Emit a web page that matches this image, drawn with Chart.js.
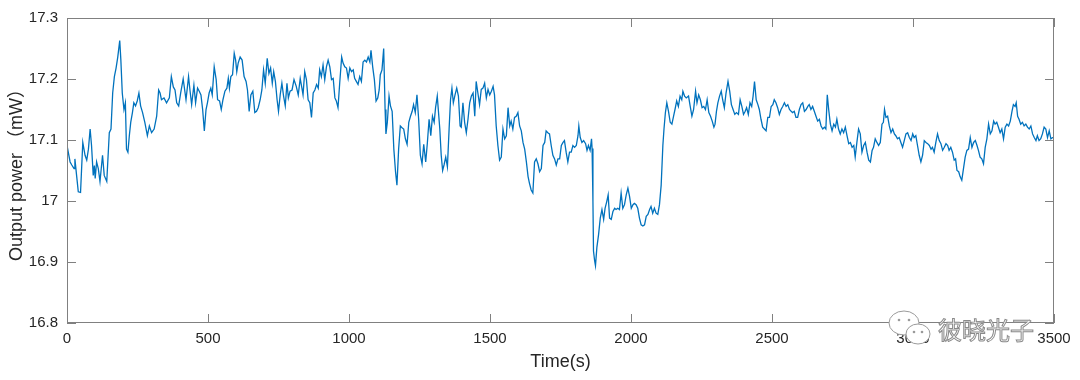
<!DOCTYPE html>
<html>
<head>
<meta charset="utf-8">
<script src="https://cdn.jsdelivr.net/npm/chart.js@4/dist/chart.umd.min.js"></script>
<style>
  body { margin: 0; background: #fff; }
  #wrap { width: 1080px; height: 380px; position: relative; }
</style>
</head>
<body>
<div id="wrap"><canvas id="power"></canvas></div>
<script>
var timeS = [
  0, 11, 17, 25, 28, 34, 40, 48, 56, 64,
  70, 76, 82, 87, 93, 97, 100, 105, 111, 117,
  126, 132, 141, 150, 156, 162, 168, 174, 180, 187,
  191, 196, 202, 207, 211, 216, 221, 226, 232, 237,
  243, 249, 255, 261, 268, 276, 285, 292, 300, 309,
  318, 325, 330, 335, 344, 353, 363, 370, 377, 383,
  389, 396, 403, 412, 422, 431, 436, 442, 450, 456,
  463, 469, 475, 481, 487, 493, 498, 504, 510, 515,
  522, 529, 534, 541, 547, 553, 560, 567, 572, 576,
  581, 587, 593, 598, 602, 607, 614, 621, 628, 635,
  640, 646, 652, 659, 666, 672, 678, 685, 691, 697,
  703, 710, 716, 722, 728, 733, 739, 745, 750, 756,
  762, 768, 774, 780, 785, 791, 798, 805, 813, 820,
  827, 833, 837, 843, 849, 855, 861, 867, 873, 879,
  885, 891, 896, 902, 908, 914, 920, 926, 932, 938,
  944, 950, 955, 961, 967, 974, 979, 985, 991, 997,
  1003, 1009, 1015, 1020, 1026, 1032, 1038, 1044, 1050, 1056,
  1062, 1068, 1074, 1078, 1084, 1090, 1096, 1102, 1107, 1111,
  1117, 1123, 1128, 1131, 1136, 1142, 1147, 1153, 1159, 1165,
  1170, 1176, 1182, 1188, 1194, 1200, 1206, 1212, 1218, 1224,
  1229, 1235, 1241, 1247, 1253, 1259, 1265, 1272, 1278, 1284,
  1290, 1296, 1302, 1307, 1313, 1322, 1327, 1332, 1337, 1343,
  1349, 1355, 1360, 1365, 1370, 1376, 1382, 1388, 1394, 1398,
  1404, 1410, 1416, 1422, 1428, 1434, 1440, 1446, 1451, 1457,
  1463, 1469, 1475, 1481, 1487, 1493, 1499, 1505, 1511, 1516,
  1522, 1528, 1534, 1540, 1546, 1552, 1558, 1564, 1570, 1575,
  1581, 1587, 1593, 1599, 1605, 1611, 1617, 1623, 1629, 1635,
  1640, 1646, 1652, 1658, 1664, 1670, 1676, 1682, 1688, 1694,
  1699, 1705, 1711, 1717, 1723, 1729, 1735, 1741, 1747, 1753,
  1759, 1764, 1770, 1776, 1782, 1788, 1794, 1800, 1806, 1812,
  1815, 1820, 1826, 1832, 1839, 1844, 1849, 1855, 1860, 1862,
  1865, 1867, 1871, 1874, 1879, 1885, 1891, 1897, 1903, 1908,
  1914, 1919, 1924, 1930, 1936, 1942, 1947, 1953, 1959, 1965,
  1971, 1977, 1983, 1989, 1995, 2001, 2007, 2012, 2018, 2024,
  2030, 2036, 2042, 2048, 2054, 2060, 2066, 2071, 2077, 2083,
  2089, 2095, 2101, 2107, 2113, 2117, 2122, 2127, 2133, 2139,
  2145, 2151, 2156, 2162, 2168, 2174, 2180, 2184, 2190, 2196,
  2204, 2210, 2216, 2222, 2229, 2234, 2240, 2246, 2252, 2258,
  2264, 2270, 2276, 2282, 2288, 2294, 2298, 2303, 2308, 2314,
  2320, 2325, 2331, 2337, 2344, 2350, 2356, 2362, 2368, 2374,
  2381, 2387, 2393, 2399, 2405, 2410, 2416, 2422, 2428, 2433,
  2438, 2444, 2450, 2455, 2461, 2467, 2473, 2479, 2485, 2491,
  2497, 2503, 2508, 2514, 2520, 2526, 2532, 2538, 2544, 2550,
  2556, 2562, 2568, 2573, 2579, 2585, 2591, 2597, 2603, 2609,
  2615, 2621, 2627, 2632, 2638, 2644, 2650, 2656, 2662, 2668,
  2674, 2680, 2686, 2691, 2696, 2701, 2707, 2713, 2719, 2725,
  2730, 2736, 2742, 2748, 2754, 2760, 2766, 2772, 2778, 2784,
  2790, 2795, 2801, 2807, 2813, 2819, 2825, 2831, 2837, 2843,
  2849, 2855, 2860, 2866, 2872, 2878, 2884, 2890, 2895, 2899,
  2904, 2910, 2916, 2922, 2928, 2934, 2939, 2945, 2951, 2957,
  2963, 2969, 2975, 2981, 2987, 2993, 2999, 3004, 3010, 3016,
  3022, 3028, 3034, 3040, 3046, 3052, 3058, 3064, 3069, 3075,
  3081, 3087, 3093, 3099, 3105, 3111, 3117, 3123, 3128, 3134,
  3140, 3146, 3151, 3156, 3162, 3167, 3173, 3179, 3185, 3191,
  3197, 3203, 3209, 3215, 3221, 3227, 3232, 3238, 3244, 3250,
  3256, 3262, 3268, 3274, 3280, 3286, 3291, 3297, 3303, 3309,
  3315, 3321, 3327, 3333, 3339, 3345, 3351, 3356, 3362, 3366,
  3371, 3376, 3382, 3388, 3394, 3400, 3406, 3412, 3418, 3424,
  3430, 3436, 3441, 3447, 3453, 3459, 3465, 3471, 3477, 3483,
  3489, 3495, 3500
];

var powerMW = [
  17.091, 17.064, 17.059, 17.053, 17.069, 17.042, 17.015, 17.014, 17.096, 17.075,
  17.067, 17.085, 17.118, 17.091, 17.042, 17.058, 17.037, 17.064, 17.053, 17.032,
  17.075, 17.042, 17.032, 17.112, 17.118, 17.177, 17.204, 17.218, 17.236, 17.263,
  17.231, 17.177, 17.150, 17.161, 17.085, 17.080, 17.107, 17.129, 17.145, 17.161,
  17.156, 17.164, 17.177, 17.156, 17.145, 17.129, 17.107, 17.123, 17.112, 17.118,
  17.139, 17.182, 17.177, 17.166, 17.169, 17.161, 17.169, 17.204, 17.187, 17.182,
  17.161, 17.156, 17.177, 17.200, 17.166, 17.204, 17.182, 17.158, 17.190, 17.161,
  17.185, 17.180, 17.174, 17.150, 17.115, 17.150, 17.161, 17.177, 17.185, 17.174,
  17.220, 17.199, 17.166, 17.164, 17.150, 17.166, 17.180, 17.185, 17.201, 17.185,
  17.204, 17.207, 17.242, 17.231, 17.212, 17.226, 17.236, 17.231, 17.204, 17.196,
  17.182, 17.147, 17.174, 17.180, 17.145, 17.147, 17.153, 17.166, 17.182, 17.215,
  17.193, 17.234, 17.209, 17.218, 17.193, 17.212, 17.196, 17.166, 17.147, 17.174,
  17.193, 17.172, 17.156, 17.193, 17.169, 17.180, 17.182, 17.199, 17.188, 17.174,
  17.201, 17.185, 17.174, 17.212, 17.199, 17.166, 17.161, 17.137, 17.177, 17.182,
  17.191, 17.185, 17.215, 17.204, 17.223, 17.199, 17.220, 17.231, 17.220, 17.199,
  17.201, 17.169, 17.164, 17.153, 17.193, 17.236, 17.226, 17.220, 17.218, 17.201,
  17.218, 17.212, 17.215, 17.201, 17.196, 17.191, 17.204, 17.196, 17.228, 17.231,
  17.228, 17.236, 17.228, 17.247, 17.220, 17.199, 17.164, 17.169, 17.182, 17.207,
  17.215, 17.250, 17.150, 17.110, 17.129, 17.172, 17.156, 17.147, 17.085, 17.048,
  17.026, 17.085, 17.123, 17.120, 17.118, 17.102, 17.093, 17.129, 17.139, 17.147,
  17.158, 17.145, 17.174, 17.134, 17.075, 17.061, 17.093, 17.064, 17.096, 17.134,
  17.107, 17.139, 17.129, 17.153, 17.172, 17.118, 17.075, 17.050, 17.059, 17.072,
  17.056, 17.118, 17.166, 17.185, 17.161, 17.174, 17.185, 17.172, 17.123, 17.121,
  17.161, 17.129, 17.112, 17.134, 17.161, 17.172, 17.177, 17.139, 17.196, 17.177,
  17.158, 17.183, 17.185, 17.193, 17.169, 17.183, 17.174, 17.180, 17.188, 17.174,
  17.123, 17.091, 17.067, 17.072, 17.118, 17.102, 17.107, 17.153, 17.123, 17.131,
  17.118, 17.137, 17.139, 17.145, 17.123, 17.115, 17.096, 17.085, 17.064, 17.040,
  17.029, 17.018, 17.013, 17.064, 17.069, 17.061, 17.048, 17.053, 17.091, 17.096,
  17.115, 17.112, 17.110, 17.091, 17.075, 17.069, 17.059, 17.069, 17.069, 17.091,
  17.096, 17.099, 17.080, 17.064, 17.080, 17.080, 17.091, 17.088, 17.091, 17.107,
  17.123, 17.104, 17.096, 17.099, 17.094, 17.083, 17.091, 17.083, 17.102, 17.086,
  17.000, 16.918, 16.902, 16.894, 16.924, 16.945, 16.972, 16.986, 16.970, 16.988,
  16.999, 17.010, 16.972, 16.970, 16.983, 16.988, 16.986, 16.988, 16.986, 17.013,
  16.988, 16.994, 17.010, 17.021, 17.007, 16.988, 16.994, 16.996, 16.994, 16.988,
  16.972, 16.961, 16.959, 16.961, 16.975, 16.978, 16.986, 16.991, 16.980, 16.988,
  16.980, 16.978, 16.994, 17.026, 17.091, 17.118, 17.145, 17.161, 17.147, 17.129,
  17.126, 17.139, 17.150, 17.164, 17.155, 17.172, 17.166, 17.180, 17.172, 17.169,
  17.172, 17.155, 17.139, 17.150, 17.180, 17.161, 17.174, 17.166, 17.153, 17.155,
  17.150, 17.166, 17.145, 17.139, 17.131, 17.121, 17.126, 17.147, 17.161, 17.172,
  17.180, 17.166, 17.153, 17.177, 17.196, 17.180, 17.158, 17.150, 17.142, 17.145,
  17.142, 17.166, 17.155, 17.142, 17.147, 17.153, 17.142, 17.161, 17.155, 17.172,
  17.196, 17.166, 17.158, 17.150, 17.134, 17.121, 17.118, 17.115, 17.137, 17.137,
  17.155, 17.158, 17.166, 17.161, 17.153, 17.142, 17.150, 17.155, 17.161, 17.155,
  17.158, 17.150, 17.147, 17.145, 17.147, 17.137, 17.137, 17.150, 17.158, 17.161,
  17.147, 17.150, 17.155, 17.158, 17.150, 17.155, 17.147, 17.139, 17.131, 17.134,
  17.123, 17.118, 17.121, 17.118, 17.174, 17.150, 17.126, 17.115, 17.126, 17.121,
  17.134, 17.118, 17.110, 17.118, 17.112, 17.121, 17.107, 17.094, 17.096, 17.088,
  17.091, 17.072, 17.096, 17.118, 17.110, 17.080, 17.091, 17.096, 17.080, 17.067,
  17.064, 17.083, 17.088, 17.102, 17.096, 17.091, 17.096, 17.126, 17.129, 17.150,
  17.137, 17.139, 17.123, 17.112, 17.118, 17.110, 17.107, 17.102, 17.104, 17.096,
  17.088, 17.099, 17.110, 17.112, 17.104, 17.099, 17.110, 17.104, 17.107, 17.091,
  17.075, 17.064, 17.075, 17.099, 17.096, 17.094, 17.091, 17.085, 17.088, 17.080,
  17.096, 17.110, 17.099, 17.094, 17.083, 17.088, 17.094, 17.091, 17.083, 17.088,
  17.080, 17.067, 17.069, 17.050, 17.048, 17.040, 17.034, 17.053, 17.072, 17.083,
  17.085, 17.104, 17.088, 17.096, 17.099, 17.091, 17.083, 17.072, 17.069, 17.061,
  17.088, 17.102, 17.126, 17.110, 17.115, 17.131, 17.126, 17.129, 17.121, 17.112,
  17.118, 17.102, 17.121, 17.126, 17.123, 17.131, 17.147, 17.158, 17.155, 17.161,
  17.139, 17.134, 17.126, 17.129, 17.123, 17.126, 17.121, 17.118, 17.123, 17.110,
  17.104, 17.099, 17.107, 17.099, 17.102, 17.110, 17.121, 17.118, 17.104, 17.115,
  17.102, 17.104, 17.104
];

var xTicks = [0, 500, 1000, 1500, 2000, 2500, 3000, 3500];
var yTicks = [16.8, 16.9, 17.0, 17.1, 17.2, 17.3];

var xTitle = 'Time(s)';
var yTitle = 'Output power （mW）';
var watermark = '彼晓光子';

var axisColor = '#808080';
var textColor = '#262626';
var tickFont = { family: "'Liberation Sans', Arial, sans-serif", size: 15 };
var titleFont = { family: "'Liberation Sans', 'Noto Sans CJK SC', Arial, sans-serif", size: 18 };

// box round the axes with ticks pointing inwards on all four sides
var matlabBox = {
  id: 'matlabBox',
  afterDatasetsDraw: function (chart) {
    var ctx = chart.ctx;
    var a = chart.chartArea;
    var xs = chart.scales.x;
    var ys = chart.scales.y;
    var len = 9;
    ctx.save();
    ctx.strokeStyle = axisColor;
    ctx.lineWidth = 1;
    ctx.strokeRect(a.left + 0.5, a.top + 0.5, a.right - a.left - 1, a.bottom - a.top - 1);
    ctx.beginPath();
    xTicks.forEach(function (v) {
      var px = Math.round(xs.getPixelForValue(v)) + 0.5;
      ctx.moveTo(px, a.bottom);
      ctx.lineTo(px, a.bottom - len);
      ctx.moveTo(px, a.top);
      ctx.lineTo(px, a.top + len);
    });
    yTicks.forEach(function (v) {
      var py = Math.round(ys.getPixelForValue(v)) + 0.5;
      ctx.moveTo(a.left, py);
      ctx.lineTo(a.left + len, py);
      ctx.moveTo(a.right, py);
      ctx.lineTo(a.right - len, py);
    });
    ctx.stroke();
    ctx.restore();
  },
  afterDraw: function (chart) {
    // WeChat style watermark in the lower right corner
    var ctx = chart.ctx;
    ctx.save();
    ctx.strokeStyle = '#9a9a9a';
    ctx.fillStyle = '#ffffff';
    ctx.lineWidth = 1;
    ctx.beginPath();
    ctx.ellipse(904, 323, 15, 12, 0, 0, Math.PI * 2);
    ctx.fill();
    ctx.stroke();
    ctx.beginPath();
    ctx.ellipse(918, 334, 12, 10, 0, 0, Math.PI * 2);
    ctx.fill();
    ctx.stroke();
    ctx.fillStyle = '#9a9a9a';
    [[899, 320], [909, 320], [914, 332], [922, 332]].forEach(function (p) {
      ctx.beginPath();
      ctx.arc(p[0], p[1], 1.3, 0, Math.PI * 2);
      ctx.fill();
    });
    ctx.font = "24px 'Noto Sans CJK SC', sans-serif";
    ctx.textBaseline = 'middle';
    ctx.textAlign = 'left';
    ctx.fillStyle = '#ffffff';
    ctx.strokeStyle = '#8a8a8a';
    ctx.lineWidth = 1;
    ctx.fillText(watermark, 938, 330);
    ctx.strokeText(watermark, 938, 330);
    ctx.restore();
  }
};

var ctx = document.getElementById('power');
var powerChart = new Chart(ctx, {
  type: 'line',
  data: {
    datasets: [{
      data: timeS.map(function (t, i) { return { x: t, y: powerMW[i] }; }),
      borderColor: '#0072BD',
      borderWidth: 1.3,
      pointRadius: 0,
      tension: 0,
      fill: false
    }]
  },
  options: {
    responsive: true,
    maintainAspectRatio: false,
    animation: false,
    layout: { padding: { top: 14, right: 26, left: 0, bottom: 0 } },
    plugins: {
      legend: { display: false },
      tooltip: { enabled: false }
    },
    scales: {
      x: {
        type: 'linear',
        min: 0,
        max: 3500,
        afterFit: function (scale) { scale.height = 57; },
        afterBuildTicks: function (scale) {
          scale.ticks = xTicks.map(function (v) { return { value: v }; });
        },
        ticks: {
          color: textColor,
          font: tickFont,
          padding: 7,
          maxRotation: 0,
          autoSkip: false,
          callback: function (v) { return String(v); }
        },
        grid: { display: false, drawTicks: false },
        border: { display: false },
        title: {
          display: true,
          text: xTitle,
          color: textColor,
          font: titleFont,
          padding: { top: 0, bottom: 7 }
        }
      },
      y: {
        min: 16.8,
        max: 17.3,
        afterFit: function (scale) { scale.width = 67; },
        afterBuildTicks: function (scale) {
          scale.ticks = yTicks.map(function (v) { return { value: v }; });
        },
        ticks: {
          color: textColor,
          font: tickFont,
          padding: 9,
          autoSkip: false,
          callback: function (v) { return String(Number(v.toFixed(1))); }
        },
        grid: { display: false, drawTicks: false },
        border: { display: false },
        title: {
          display: true,
          text: yTitle,
          color: textColor,
          font: titleFont,
          padding: { top: 6, bottom: 0 }
        }
      }
    }
  },
  plugins: [matlabBox]
});
</script>
</body>
</html>
